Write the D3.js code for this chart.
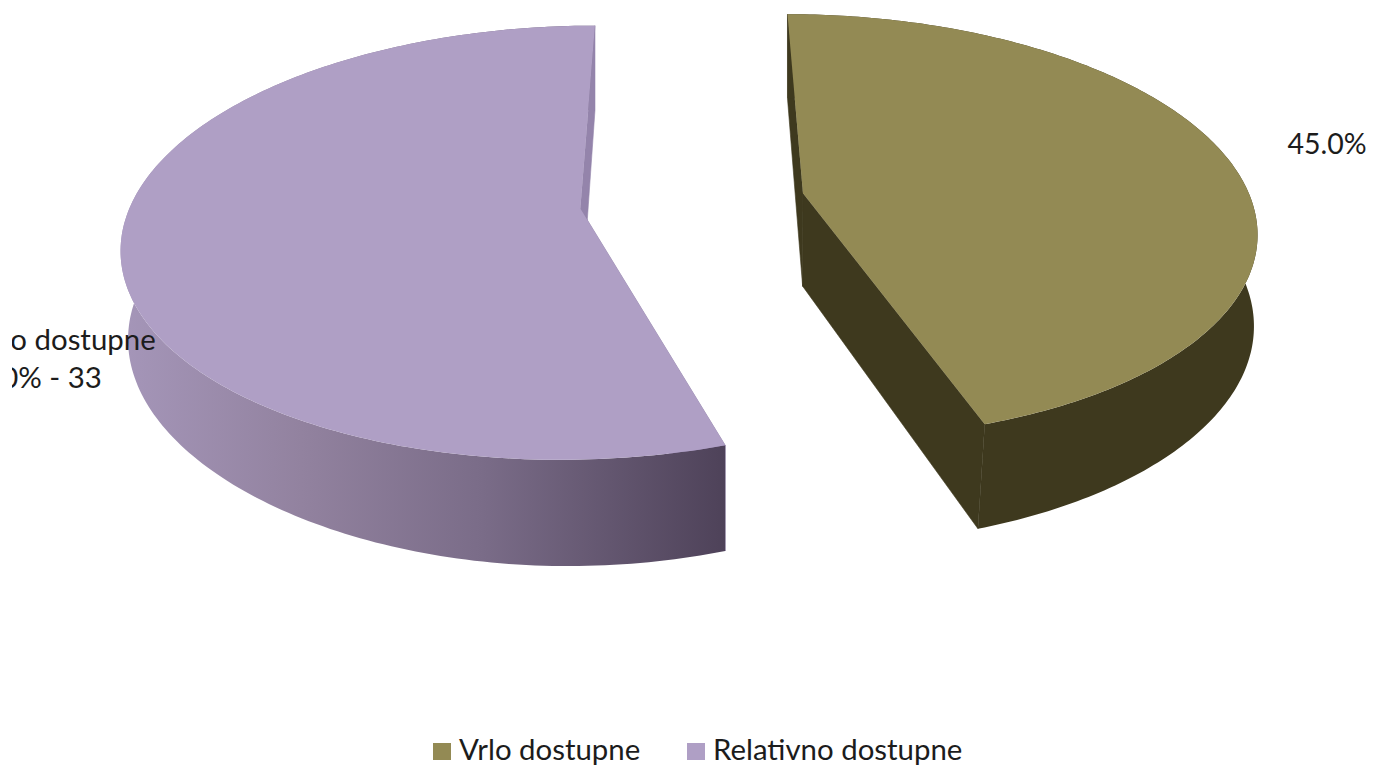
<!DOCTYPE html>
<html>
<head>
<meta charset="utf-8">
<script src="https://cdn.jsdelivr.net/npm/d3@7"></script>
<style>
html, body { margin: 0; padding: 0; background: #fff; overflow: hidden; }
text { font-family: Lato, "Open Sans", sans-serif; fill: #1c1c1c; }
</style>
</head>
<body>
<script>
var categories = ['Vrlo dostupne', 'Relativno dostupne'];
var values = [45, 55];
var pointLabels = [['45.0%'], ['Relativno dostupne', '55.0% - 33']];
var topColors = ['#938a54', '#af9fc5'];
var wallColors = ['#3e391e', '#9484ab'];

var width = 1373, height = 766;

var svg = d3.select('body').append('svg')
   .attr('width', width)
   .attr('height', height);

var defs = svg.append('defs');
var grad = defs.append('linearGradient')
   .attr('id', 'rim-1')
   .attr('gradientUnits', 'userSpaceOnUse')
   .attr('x1', 120).attr('x2', 725).attr('y1', 0).attr('y2', 0);
[[0, '#a596b9'], [0.3, '#92829f'], [0.6, '#7a6c88'], [1, '#4e4259']].forEach(function(s) {
    grad.append('stop').attr('offset', s[0]).attr('stop-color', s[1]);
});
defs.append('clipPath').attr('id', 'label-clip')
   .append('rect').attr('x', 12).attr('y', 0).attr('width', width).attr('height', height);

// perspective of the tilted pie: u goes right, v goes to the viewer, radius 1
function project(u, v) {
    var s = 1 / (6.37 - v);
    return [688 + (2860 * u + 32) * s, -1134 + 8514 * s];
}
// lower edge of the disc, a bit longer in front, leaning inwards mostly in front
function lower(p) {
    var depth = 84 + 0.05 * (p[1] - 14);
    var t = (p[1] - 14) / 410;
    var lean = (725 - p[0]) / (p[0] < 725 ? 2500 : 4000) * depth * t * t;
    return [p[0] + lean, p[1] + depth];
}

var pie = d3.pie().sort(null)(values);
var line = d3.line();
var explodeU = [0.2467, -0.25], explodeV = [-0.045, 0.028];

pie.forEach(function(d, i) {
    var cu = explodeU[i], cv = explodeV[i];
    var apex = project(cu, cv);
    var steps = d3.range(0, 201).map(function(k) {
        return d.startAngle + (d.endAngle - d.startAngle) * k / 200;
    });
    var rim = steps.map(function(a) {
        return project(cu + Math.sin(a), cv - Math.cos(a));
    });
    var rimLow = rim.map(lower);
    var first = rim[0], last = rim[rim.length - 1];

    var g = svg.append('g').attr('class', 'slice');
    g.append('path')
       .attr('d', line([first, apex, lower(apex), lower(first)]) + 'Z')
       .attr('fill', wallColors[i])
       .attr('stroke', wallColors[i])
       .attr('stroke-width', 0.6);
    // outer wall
    g.append('path')
       .attr('d', line(rim.concat(rimLow.slice().reverse())) + 'Z')
       .attr('fill', i == 0 ? wallColors[0] : 'url(#rim-1)');
    g.append('path')
       .attr('d', line([last, apex, lower(apex), lower(last)]) + 'Z')
       .attr('fill', wallColors[i])
       .attr('stroke', wallColors[i])
       .attr('stroke-width', 0.6);
    // top
    g.append('path')
       .attr('d', line([apex].concat(rim)) + 'Z')
       .attr('fill', topColors[i]);
});

// point labels
svg.append('text')
   .attr('x', 1327).attr('y', 154)
   .attr('text-anchor', 'middle')
   .attr('font-size', 28.5)
   .text(pointLabels[0][0]);

var lab = svg.append('g').attr('clip-path', 'url(#label-clip)');
pointLabels[1].forEach(function(t, i) {
    lab.append('text')
       .attr('x', 31).attr('y', 350 + i * 38)
       .attr('text-anchor', 'middle')
       .attr('font-size', 29.4)
       .text(t);
});

// legend
var legendX = [433, 687];
categories.forEach(function(c, i) {
    svg.append('rect')
       .attr('x', legendX[i]).attr('y', 743)
       .attr('width', 18).attr('height', 17)
       .attr('fill', topColors[i]);
    svg.append('text')
       .attr('x', legendX[i] + 26).attr('y', 760)
       .attr('font-size', 29.4)
       .text(c);
});
</script>
</body>
</html>
